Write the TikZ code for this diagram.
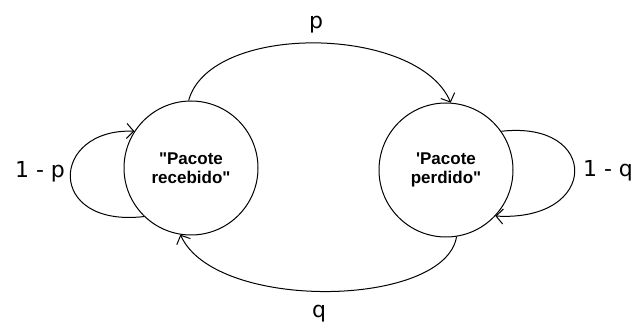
\documentclass[tikz,border=0pt]{standalone}
\usepackage{fontspec}
\setmainfont{DejaVu Sans}
\newfontfamily\boxfont{Liberation Sans}
\usetikzlibrary{arrows.meta}
\begin{document}
\begin{tikzpicture}[x=1pt,y=-1pt,
  state/.style={draw,circle,minimum size=134pt,inner sep=0pt,line width=1pt,align=center,
    font=\boxfont\bfseries\fontsize{17}{19.5}\selectfont},
  lbl/.style={font=\fontsize{22}{24}\selectfont,anchor=base,inner sep=0pt},
  edge/.style={line width=1pt,-{Straight Barb[length=7pt,width=15pt,line width=1pt]}}]
\useasboundingbox (0,0) rectangle (635,323);
\node[state] (A) at (191,168) {"Pacote\\recebido"};
\node[state] (B) at (446,170) {'Pacote\\perdido"};
\draw[edge] (A.92) .. controls (210,22) and (418,25) .. (B.86);
\draw[edge] (B.279) .. controls (445,308) and (215,312) .. (A.261);
\draw[edge] (A.226) .. controls (45,228) and (50,128) .. (A.147);
\draw[edge] (B.35) .. controls (600,120) and (600,222) .. (B.317);
\node[lbl] (lp) at (316,29) {p};
\node[lbl] (lq) at (319,318) {q};
\node[lbl] (l1p) at (40,178) {1 - p};
\node[lbl] (l1q) at (608,177) {1 - q};
\end{tikzpicture}
\end{document}
